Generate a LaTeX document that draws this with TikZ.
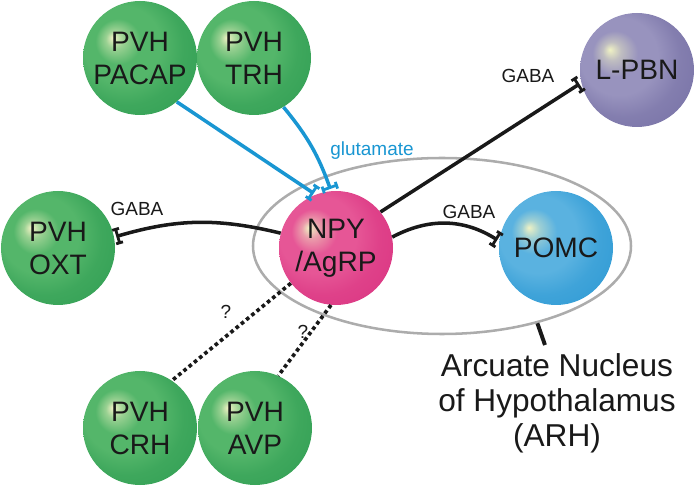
\documentclass[tikz,border=0pt]{standalone}
\usepackage{fontspec}
\setmainfont{Liberation Sans}
\usetikzlibrary{arrows.meta,shapes.geometric}

\definecolor{inkblack}{RGB}{25,25,25}
\definecolor{synblue}{RGB}{25,150,210}
\definecolor{rimgray}{RGB}{172,172,172}
\definecolor{hilite}{RGB}{240,242,196}
\definecolor{greenmid}{RGB}{84,182,106}
\definecolor{greenrim}{RGB}{36,150,76}
\definecolor{pinkmid}{RGB}{230,86,150}
\definecolor{pinkrim}{RGB}{214,40,122}
\definecolor{bluemid}{RGB}{90,178,224}
\definecolor{bluerim}{RGB}{30,145,208}
\definecolor{lilacmid}{RGB}{152,147,190}
\definecolor{lilacrim}{RGB}{106,100,156}

% sphere shadings, light spot up and to the left (node rim sits at 25bp)
\pgfdeclareradialshading{greenball}{\pgfpoint{-12bp}{9bp}}{color(0bp)=(hilite); color(4bp)=(hilite!45!greenmid); color(10bp)=(greenmid); color(17bp)=(greenmid); color(25bp)=(greenmid!55!greenrim); color(50bp)=(greenrim)}
\pgfdeclareradialshading{pinkball}{\pgfpoint{-12bp}{9bp}}{color(0bp)=(hilite); color(4bp)=(hilite!45!pinkmid); color(10bp)=(pinkmid); color(17bp)=(pinkmid); color(25bp)=(pinkmid!55!pinkrim); color(50bp)=(pinkrim)}
\pgfdeclareradialshading{blueball}{\pgfpoint{-12bp}{9bp}}{color(0bp)=(hilite); color(4bp)=(hilite!45!bluemid); color(10bp)=(bluemid); color(17bp)=(bluemid); color(25bp)=(bluemid!55!bluerim); color(50bp)=(bluerim)}
\pgfdeclareradialshading{lilacball}{\pgfpoint{-12bp}{9bp}}{color(0bp)=(hilite); color(4bp)=(hilite!45!lilacmid); color(10bp)=(lilacmid); color(17bp)=(lilacmid); color(25bp)=(lilacmid!55!lilacrim); color(50bp)=(lilacrim)}

\begin{document}
\begin{tikzpicture}[
        cell/.style={circle, minimum size=2.85cm, inner sep=0pt, align=center,
            text=inkblack, font=\fontsize{20}{23.5}\selectfont},
        small/.style={text=inkblack, inner sep=1pt, font=\fontsize{13.5}{15}\selectfont},
        gabaline/.style={draw=inkblack, line width=2.5pt, -{Tee Barb[width=12pt,length=5pt,line width=2pt]}},
        gluline/.style={draw=synblue, line width=2.5pt, -{Tee Barb[width=12pt,length=5pt,line width=2pt]}},
        unknown/.style={draw=inkblack, line width=2.6pt, dash pattern=on 2.6pt off 2.2pt}
    ]
        \useasboundingbox (0, 0) rectangle (17.375, 12.15);

        \node[ellipse, draw=rimgray, line width=1.8pt, minimum width=9.45cm, minimum height=4.4cm] (arh) at (11.05, 6) { };

        \node[cell, shading=greenball] (pacap) at (3.5, 10.7) {PVH\\PACAP};
        \node[cell, shading=greenball] (trh) at (6.35, 10.7) {PVH\\TRH};
        \node[cell, shading=greenball] (oxt) at (1.45, 5.95) {PVH\\OXT};
        \node[cell, shading=greenball] (crh) at (3.5, 1.45) {PVH\\CRH};
        \node[cell, shading=greenball] (avp) at (6.375, 1.45) {PVH\\AVP};
        \node[cell, shading=pinkball] (npy) at (8.4, 5.95) {NPY\\/AgRP};
        \node[cell, shading=blueball] (pomc) at (13.9, 5.95) {POMC};
        \node[cell, shading=lilacball] (lpbn) at (15.925, 10.4) {L-PBN};

        \draw[gluline] (pacap.-50) -- (npy.111);
        \draw[gluline] (trh.-59) to[bend left=10] (npy.95);
        \node[small, text=synblue] (glu) at (9.3, 8.375) {glutamate};

        \draw[gabaline] (npy.165) to[bend right=15] (oxt.11);
        \draw[gabaline] (npy.11) to[bend left=30] (pomc.173);
        \draw[gabaline] (npy.39) -- (lpbn.193);
        \node[small] (gaba1) at (3.425, 6.925) {GABA};
        \node[small] (gaba2) at (11.725, 6.85) {GABA};
        \node[small] (gaba3) at (13.2, 10.25) {GABA};

        \draw[unknown] (npy.218) -- (crh.56);
        \draw[unknown] (npy.-95) -- (avp.66);
        \node[small] (q1) at (5.65, 4.35) {?};
        \node[small] (q2) at (7.575, 3.85) {?};

        \node[align=center, text=inkblack, font=\fontsize{22.5}{24.9}\selectfont] (arhtext) at (13.925, 2.075) {Arcuate Nucleus\\of Hypothalamus\\(ARH)};
        \coordinate (arhtip) at (13.625, 3.525);
        \draw[inkblack, line width=2.8pt] (arh.-39) -- (arhtip);
    \end{tikzpicture}
\end{document}
